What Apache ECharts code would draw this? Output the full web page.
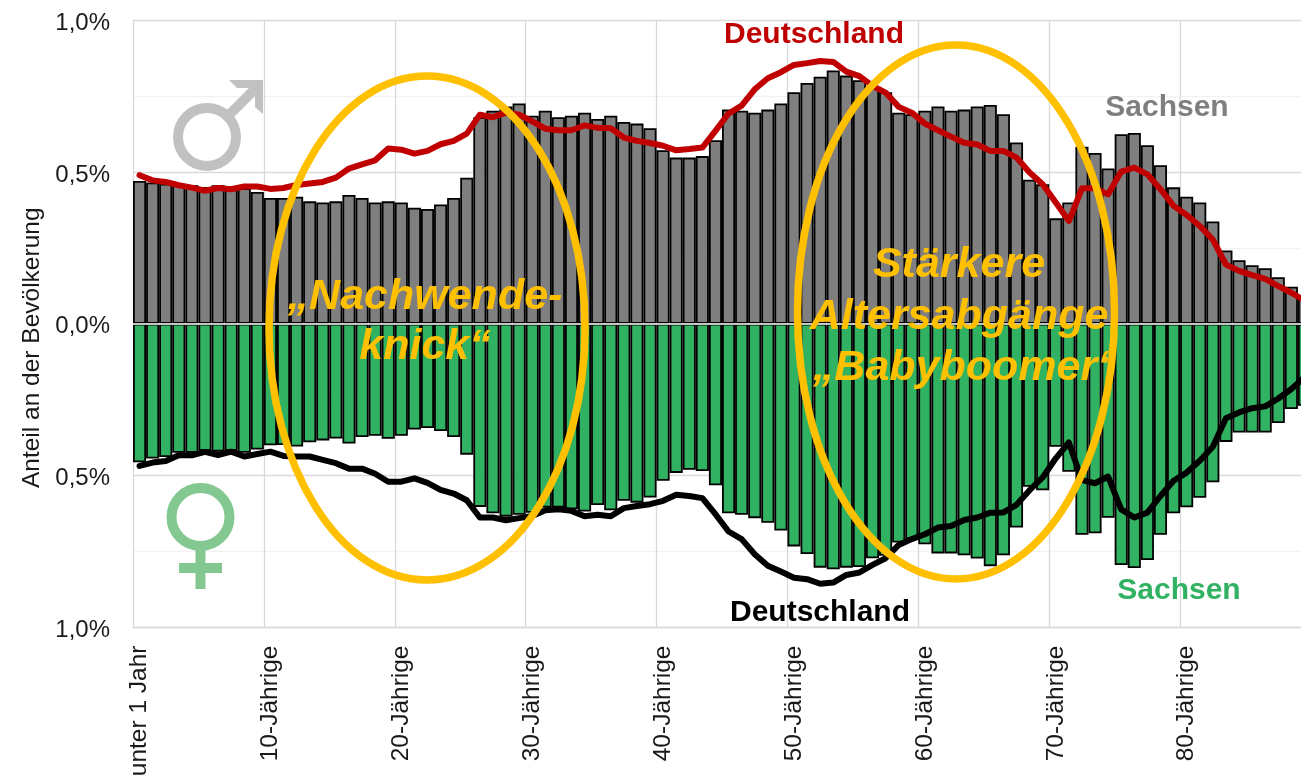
<!DOCTYPE html>
<html>
<head>
<meta charset="utf-8">
<style>html,body{margin:0;padding:0;background:#fff;overflow:hidden}#chart{width:1301px;height:777px}</style>
<script src="https://cdn.jsdelivr.net/npm/echarts@6/dist/echarts.min.js"></script>
</head>
<body>
<div id="chart"></div>
<script>
// Anteil an der Bevoelkerung je Altersjahr, in Prozent
var ages = [];
for (var a = 0; a < 90; a++) ages.push(a === 0 ? 'unter 1 Jahr' : a + '-Jährige');

var sachsenM = [.470,.465,.461,.460,.456,.450,.456,.452,.446,.434,
  .414,.414,.418,.403,.399,.403,.424,.414,.399,.403,
  .399,.382,.378,.393,.414,.481,.680,.701,.715,.725,
  .685,.701,.680,.685,.695,.674,.685,.664,.659,.644,
  .571,.547,.547,.552,.604,.705,.701,.695,.705,.725,
  .762,.793,.813,.834,.817,.802,.783,.762,.695,.690,
  .701,.715,.701,.705,.715,.720,.690,.597,.474,.459,
  .347,.399,.583,.562,.511,.624,.628,.588,.522,.449,
  .418,.399,.337,.241,.209,.193,.183,.153,.122,.095];

var sachsenW = [.456,.444,.439,.425,.425,.418,.421,.418,.425,.414,
  .400,.399,.404,.390,.384,.378,.394,.373,.369,.379,
  .369,.348,.343,.353,.373,.431,.603,.624,.635,.629,
  .622,.605,.605,.611,.618,.597,.614,.583,.589,.572,
  .517,.491,.481,.485,.532,.624,.629,.640,.655,.681,
  .733,.758,.803,.808,.803,.801,.772,.764,.720,.709,
  .726,.756,.756,.762,.773,.798,.762,.671,.537,.548,
  .405,.487,.695,.690,.639,.794,.804,.778,.695,.624,
  .604,.573,.522,.389,.358,.358,.358,.327,.281,.270];

var deutschlandM = [.489,.472,.467,.456,.448,.438,.447,.443,.452,.452,
  .444,.447,.457,.462,.467,.481,.511,.525,.538,.577,
  .573,.560,.569,.591,.602,.626,.688,.680,.695,.688,
  .666,.642,.637,.637,.653,.645,.644,.613,.602,.595,
  .586,.571,.575,.580,.635,.692,.718,.772,.808,.828,
  .852,.858,.865,.862,.830,.815,.783,.761,.714,.695,
  .659,.637,.616,.596,.590,.569,.569,.547,.498,.459,
  .399,.338,.446,.446,.426,.501,.514,.492,.443,.388,
  .358,.322,.277,.195,.174,.160,.148,.124,.102,.077];

var deutschlandW = [.468,.457,.452,.433,.433,.422,.432,.421,.437,.429,
  .421,.435,.437,.437,.448,.459,.477,.477,.494,.520,
  .520,.509,.524,.547,.559,.581,.638,.638,.647,.640,
  .633,.614,.611,.616,.634,.629,.634,.607,.600,.594,
  .583,.563,.567,.574,.627,.684,.709,.759,.797,.816,
  .836,.841,.856,.852,.827,.819,.794,.772,.728,.709,
  .693,.671,.666,.646,.638,.622,.621,.596,.548,.506,
  .443,.391,.515,.525,.503,.611,.638,.622,.567,.517,
  .490,.451,.405,.311,.292,.278,.272,.246,.215,.177];

var FONT = 'Liberation Sans';
var AMBER = '#FFC000';
var GREY = '#7F7F7F';
var GREEN = '#31B262';
var RED = '#C00000';
var SYM_M = '#C1C1C1';
var SYM_W = '#84C891';

function neg(arr) {
  return arr.map(function (v) { return -v; });
}

function label(x, y, text, color, size, italic) {
  return {
    type: 'text', x: x, y: y, z: 20,
    style: {
      text: text, fill: color, align: 'center', verticalAlign: 'middle',
      font: (italic ? 'italic ' : '') + 'bold ' + size + 'px "' + FONT + '"'
    }
  };
}

function oval(cx, cy, rx, ry) {
  return {
    type: 'ellipse', z: 15, silent: true,
    shape: { cx: cx, cy: cy, rx: rx, ry: ry },
    style: { fill: 'none', stroke: AMBER, lineWidth: 7.5 }
  };
}

var chart = echarts.init(document.getElementById('chart'));

chart.setOption({
  animation: false,
  backgroundColor: '#fff',
  textStyle: { fontFamily: FONT },
  // breiter als das Fenster, der letzte Balken wird abgeschnitten
  grid: { left: 133, top: 20, width: 1178, height: 607.5, containLabel: false, outerBoundsMode: 'none' },
  xAxis: {
    type: 'category',
    data: ages,
    axisLine: { onZero: false, lineStyle: { color: '#D9D9D9', width: 1.3 } },
    axisTick: { show: false },
    axisLabel: {
      interval: 9, rotate: 90, margin: 18, fontSize: 24.5, color: '#1a1a1a',
      fontFamily: FONT, hideOverlap: false
    },
    splitLine: { show: true, interval: 9, lineStyle: { color: '#D9D9D9', width: 1.3 } }
  },
  yAxis: {
    type: 'value',
    min: -1, max: 1, interval: 0.25,
    name: 'Anteil an der Bevölkerung',
    nameLocation: 'middle',
    nameGap: 88,
    nameRotate: 90,
    nameTextStyle: { fontSize: 24.5, color: '#1a1a1a', fontFamily: FONT, padding: [0, 48, 0, 0] },
    axisLine: { show: false },
    axisTick: { show: false },
    axisLabel: {
      margin: 23, fontSize: 24, color: '#1a1a1a', fontFamily: FONT,
      verticalAlign: 'top', lineHeight: 6,
      formatter: function (v) {
        var abs = Math.abs(v);
        if (abs === 0.25 || abs === 0.75) return '';
        return abs.toFixed(1).replace('.', ',') + '%';
      }
    },
    splitLine: { show: true, lineStyle: { color: ['#D9D9D9', '#F2F2F2'], width: 1.3 } }
  },
  series: [
    {
      name: 'Sachsen männlich', type: 'bar', data: sachsenM, barWidth: '100%', barGap: '-100%', z: 2,
      itemStyle: { color: GREY, borderColor: '#000', borderWidth: 1.8 },
      markLine: {
        silent: true, symbol: 'none', label: { show: false }, z: 4,
        lineStyle: { color: '#fff', width: 1.5, type: 'solid' },
        data: [{ yAxis: 0 }]
      }
    },
    {
      name: 'Sachsen weiblich', type: 'bar', data: neg(sachsenW), barWidth: '100%', barGap: '-100%', z: 2,
      itemStyle: { color: GREEN, borderColor: '#000', borderWidth: 1.8 }
    },
    {
      name: 'Deutschland männlich', type: 'line', data: deutschlandM, symbol: 'none', z: 5,
      lineStyle: { color: RED, width: 6, cap: 'round', join: 'round' }
    },
    {
      name: 'Deutschland weiblich', type: 'line', data: neg(deutschlandW), symbol: 'none', z: 5,
      lineStyle: { color: '#000', width: 6, cap: 'round', join: 'round' }
    }
  ],
  graphic: [
    // maennlich
    { type: 'circle', z: 10, shape: { cx: 207, cy: 137, r: 29 }, style: { fill: 'none', stroke: SYM_M, lineWidth: 10 } },
    { type: 'line', z: 10, shape: { x1: 228, y1: 116, x2: 258, y2: 86 }, style: { stroke: SYM_M, lineWidth: 10 } },
    { type: 'polygon', z: 10, shape: { points: [[229, 80], [263, 80], [263, 114], [255, 107], [255, 88], [237, 88]] }, style: { fill: SYM_M } },
    // weiblich
    { type: 'circle', z: 10, shape: { cx: 200.5, cy: 517, r: 29 }, style: { fill: 'none', stroke: SYM_W, lineWidth: 10 } },
    { type: 'line', z: 10, shape: { x1: 200.5, y1: 550, x2: 200.5, y2: 589 }, style: { stroke: SYM_W, lineWidth: 10 } },
    { type: 'line', z: 10, shape: { x1: 179, y1: 568, x2: 222, y2: 568 }, style: { stroke: SYM_W, lineWidth: 10 } },

    oval(427, 328, 158, 252),
    oval(956, 312, 158.5, 267),

    label(425, 297, '„Nachwende-', AMBER, 43, true),
    label(425, 347, 'knick“', AMBER, 43, true),
    label(959, 265, 'Stärkere', AMBER, 43, true),
    label(959, 317, 'Altersabgänge', AMBER, 43, true),
    label(961, 368, '„Babyboomer‘', AMBER, 43, true),

    label(814, 35, 'Deutschland', RED, 30),
    label(820, 613, 'Deutschland', '#000', 30),
    label(1167, 108, 'Sachsen', GREY, 30),
    label(1179, 591, 'Sachsen', GREEN, 30)
  ]
});
</script>
</body>
</html>
